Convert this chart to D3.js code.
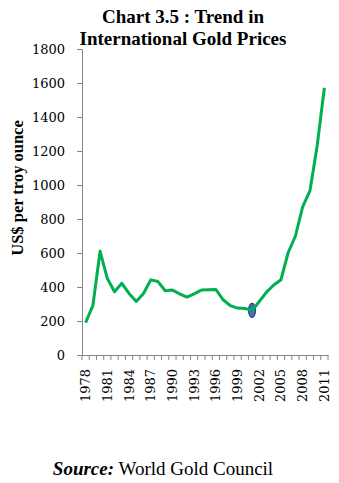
<!DOCTYPE html>
<html><head><meta charset="utf-8">
<script src="https://cdn.jsdelivr.net/npm/d3@7"></script>
<style>body{margin:0;background:#fff}svg{display:block}</style>
</head><body><svg id="c" width="339" height="483"></svg>
<script>
const years = d3.range(1978, 2012).map(String);
const prices = [190,290,610,450,372,422,362,315,362,442,432,378,382,360,340,360,382,384,386,325,290,276,274,262,315,370,412,443,603,700,872,965,1230,1572];
const yTicks = [0,200,400,600,800,1000,1200,1400,1600,1800];
const xLabelYears = ["1978","1981","1984","1987","1990","1993","1996","1999","2002","2005","2008","2011"];
const highlightYear = "2001";

const svg = d3.select("#c");
const x = d3.scaleBand().domain(years).range([82, 328]);
const y = d3.scaleLinear().domain([0, 1800]).range([355, 49]);
const serif = "'Liberation Serif', 'DejaVu Serif', serif";

// title
svg.append("text").attr("x", 183).attr("y", 23).attr("text-anchor", "middle")
  .attr("font-family", serif).attr("font-weight", "bold").attr("font-size", 19)
  .text("Chart 3.5 : Trend in");
svg.append("text").attr("x", 183).attr("y", 45).attr("text-anchor", "middle")
  .attr("font-family", serif).attr("font-weight", "bold").attr("font-size", 19)
  .text("International Gold Prices");

// y axis
const gy = svg.append("g").attr("transform", "translate(82,0)")
  .call(d3.axisLeft(y).tickValues(yTicks).tickFormat(d3.format("d")).tickSize(5).tickPadding(12));
gy.selectAll("path,line").attr("stroke", "#868686");
gy.selectAll("text").attr("font-family", "'DejaVu Serif', serif").attr("font-size", 13).attr("fill", "#000");

// x axis
const gx = svg.append("g").attr("transform", "translate(0,355)")
  .call(d3.axisBottom(x).tickValues([]).tickSizeOuter(0));
gx.select("path").attr("stroke", "#868686");
const bounds = years.map(d => x(d)).concat([x(years[years.length-1]) + x.bandwidth()]);
gx.selectAll("line.tk").data(bounds).enter().append("line").attr("class", "tk")
  .attr("x1", d => d).attr("x2", d => d).attr("y1", 0).attr("y2", 5).attr("stroke", "#868686");
gx.selectAll("text.lb").data(xLabelYears).enter().append("text").attr("class", "lb")
  .attr("transform", d => `translate(${x(d) + x.bandwidth()/2 + 4.5},14) rotate(-90)`)
  .attr("text-anchor", "end").attr("font-family", "'DejaVu Serif', serif").attr("font-size", 13)
  .attr("fill", "#000").text(d => d);

// y title
svg.append("text").attr("transform", "translate(23,188) rotate(-90)").attr("text-anchor", "middle")
  .attr("font-family", serif).attr("font-weight", "bold").attr("font-size", 16.5)
  .text("US$ per troy ounce");

// highlight marker
const hi = years.indexOf(highlightYear);
svg.append("ellipse").attr("cx", x(highlightYear) + x.bandwidth()/2).attr("cy", y(prices[hi]))
  .attr("rx", 3.5).attr("ry", 7).attr("fill", "#4a6fb5").attr("stroke", "#2c4a8a").attr("stroke-width", 1.2);

// line
const line = d3.line().x((d, i) => x(years[i]) + x.bandwidth()/2).y(d => y(d));
svg.append("path").datum(prices).attr("d", line).attr("fill", "none")
  .attr("stroke", "#00b050").attr("stroke-width", 3).attr("stroke-linejoin", "round");

// source
const src = svg.append("text").attr("x", 163).attr("y", 475).attr("text-anchor", "middle")
  .attr("font-family", serif).attr("font-size", 19);
src.append("tspan").attr("font-weight", "bold").attr("font-style", "italic").text("Source:");
src.append("tspan").text(" World Gold Council");
</script></body></html>
